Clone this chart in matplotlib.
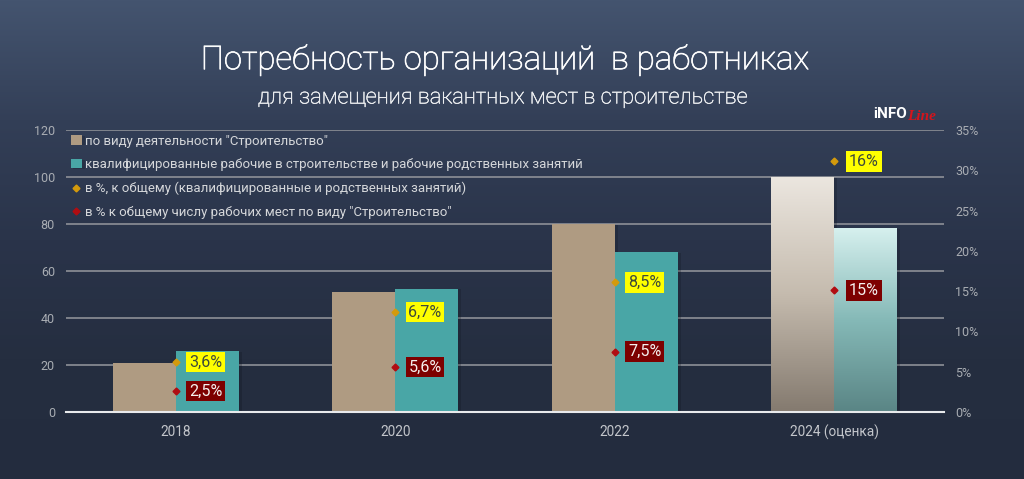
import numpy as np
import matplotlib
matplotlib.use("Agg")
import matplotlib.pyplot as plt
import matplotlib.patheffects as pe
from matplotlib.colors import LinearSegmentedColormap

# data
years = ["2018", "2020", "2022", "2024 (оценка)"]
by_activity = [21, 51, 80, 100]
qualified = [26, 52.5, 68, 78]
# marker height on the right axis and the printed label
share_qualified = [6.2, 12.4, 16.1, 31.1]
share_qualified_labels = ["3,6%", "6,7%", "8,5%", "16%"]
share_total = [2.6, 5.6, 7.5, 15.1]
share_total_labels = ["2,5%", "5,6%", "7,5%", "15%"]

left_ticks = [0, 20, 40, 60, 80, 100, 120]
right_ticks = [0, 5, 10, 15, 20, 25, 30, 35]

FONT = ["Roboto", "DejaVu Sans"]
TAN = "#af9b82"
TEAL = "#49a6a6"
GOLD = "#d49a0c"
DARKRED = "#b00d12"
GRID = "#8d9097"
TICK = "#a9adb3"
BAR_W = 63 / 219.5

fig = plt.figure(figsize=(10.24, 4.79), dpi=100)

# background gradient
bg = fig.add_axes([0, 0, 1, 1], zorder=0)
bg_cmap = LinearSegmentedColormap.from_list("bg", ["#44546f", "#333f57", "#2a344a", "#252e40", "#232c3e"])
bg.imshow(np.linspace(0, 1, 256).reshape(-1, 1), cmap=bg_cmap, aspect="auto", extent=[0, 1, 0, 1])
bg.axis("off")

# titles, light weight with a thin stroke to thicken it a little
fig.text(505 / 1024, 1 - 60 / 479, "Потребность организаций  в работниках", color="white",
         fontsize=23.7, family="Roboto", weight="light", ha="center", va="center",
         path_effects=[pe.withStroke(linewidth=0.5, foreground="white")])
fig.text(504 / 1024, 1 - 98 / 479, "для замещения вакантных мест в строительстве", color="#eef0f2",
         fontsize=15.8, family="Roboto", weight="light", ha="center", va="center",
         path_effects=[pe.withStroke(linewidth=0.35, foreground="#eef0f2")])

# logo
fig.text(873 / 1024, 1 - 114 / 479, "iNFO", color="white", fontsize=11, family="Roboto",
         weight="bold", ha="left", va="center")
fig.text(907 / 1024, 1 - 117 / 479, "Line", color="#d4141c", fontsize=11, family="Liberation Serif",
         style="italic", weight="bold", ha="left", va="center")

# main axes
ax = fig.add_axes([66 / 1024, 1 - 412 / 479, 878 / 1024, 282 / 479], zorder=1)
ax.patch.set_alpha(0)
x = np.arange(len(years))
shadow = [pe.SimplePatchShadow(offset=(2, -0.5), shadow_rgbFace="#10151f", alpha=0.25), pe.Normal()]

ax.bar(x[:3] - BAR_W / 2, by_activity[:3], BAR_W, color=TAN, zorder=3, path_effects=shadow,
       label='по виду деятельности "Строительство"')
ax.bar(x[:3] + BAR_W / 2, qualified[:3], BAR_W, color=TEAL, zorder=3, path_effects=shadow,
       label="квалифицированные рабочие в строительстве и рабочие родственных занятий")

# 2024 bars fade from light at top to dark at the bottom
tan_cmap = LinearSegmentedColormap.from_list("tan", ["#ebe6df", "#c5bbae", "#847a6f"])
teal_cmap = LinearSegmentedColormap.from_list("teal", ["#d6f0ee", "#85b9b7", "#5a8585"])
for pos, val, cm in [(x[3] - BAR_W / 2, by_activity[3], tan_cmap), (x[3] + BAR_W / 2, qualified[3], teal_cmap)]:
    ax.bar(pos, val, BAR_W, color="#5a6068", zorder=2.9, path_effects=shadow)
    ax.imshow(np.linspace(0, 1, 256).reshape(-1, 1), cmap=cm, aspect="auto", zorder=3,
              extent=[pos - BAR_W / 2, pos + BAR_W / 2, 0, val])

ax.set_xlim(-0.5, 3.5)
ax.set_ylim(0, 120)
ax.set_xticks(x)
ax.set_xticklabels(years, family=FONT, fontsize=9.8, color="#c3c6cb")
ax.set_yticks(left_ticks)
ax.tick_params(axis="y", length=0, pad=8, labelcolor=TICK, labelsize=9)
ax.tick_params(axis="x", length=0, pad=9)
for lab in ax.get_yticklabels():
    lab.set_family(FONT)
ax.grid(axis="y", color=GRID, lw=1.2, zorder=1)
ax.set_axisbelow(True)
for s in ["top", "left", "right"]:
    ax.spines[s].set_visible(False)
ax.spines["bottom"].set_color("#e8eaec")
ax.spines["bottom"].set_linewidth(1.5)
ax.spines["bottom"].set_zorder(5)

# right axis with the two percent series
ax2 = ax.twinx()
ax2.set_zorder(2)
ax2.patch.set_alpha(0)
ax2.set_ylim(0, 35)
ax2.set_yticks(right_ticks)
ax2.set_yticklabels([f"{t}%" for t in right_ticks], family=FONT, fontsize=9, color=TICK)
ax2.tick_params(axis="y", length=0, pad=8)
for s in ax2.spines.values():
    s.set_visible(False)

ax2.plot(x, share_qualified, ls="none", marker="D", ms=3.5, color=GOLD,
         label="в %, к общему (квалифицированные и родственных занятий)")
ax2.plot(x, share_total, ls="none", marker="D", ms=3.5, color=DARKRED,
         label='в % к общему числу рабочих мест по виду "Строительство"')

for i in range(len(years)):
    ax2.annotate(share_qualified_labels[i], (x[i], share_qualified[i]), xytext=(21.5, 0),
                 textcoords="offset points", ha="center", va="center", family=FONT, fontsize=11.6,
                 color="#3d4a3a", bbox=dict(boxstyle="square,pad=0.17", fc="#ffff00", ec="none"))
    ax2.annotate(share_total_labels[i], (x[i], share_total[i]), xytext=(21.5, 0),
                 textcoords="offset points", ha="center", va="center", family=FONT, fontsize=11.6,
                 color="#f5f0ee", bbox=dict(boxstyle="square,pad=0.17", fc="#7d0000", ec="none"))

# legend stays on the upper left, over the grid
h1, l1 = ax.get_legend_handles_labels()
h2, l2 = ax2.get_legend_handles_labels()
ax2.legend(h1 + h2, l1 + l2, loc="upper left", bbox_to_anchor=(0, 1.0), frameon=False,
           prop={"family": FONT, "size": 9.5}, labelcolor="#d5d7da", labelspacing=0.8,
           handlelength=0.85, handleheight=0.7, handletextpad=0.25, borderaxespad=0, borderpad=0.35)

fig.savefig("out.png", dpi=100)
